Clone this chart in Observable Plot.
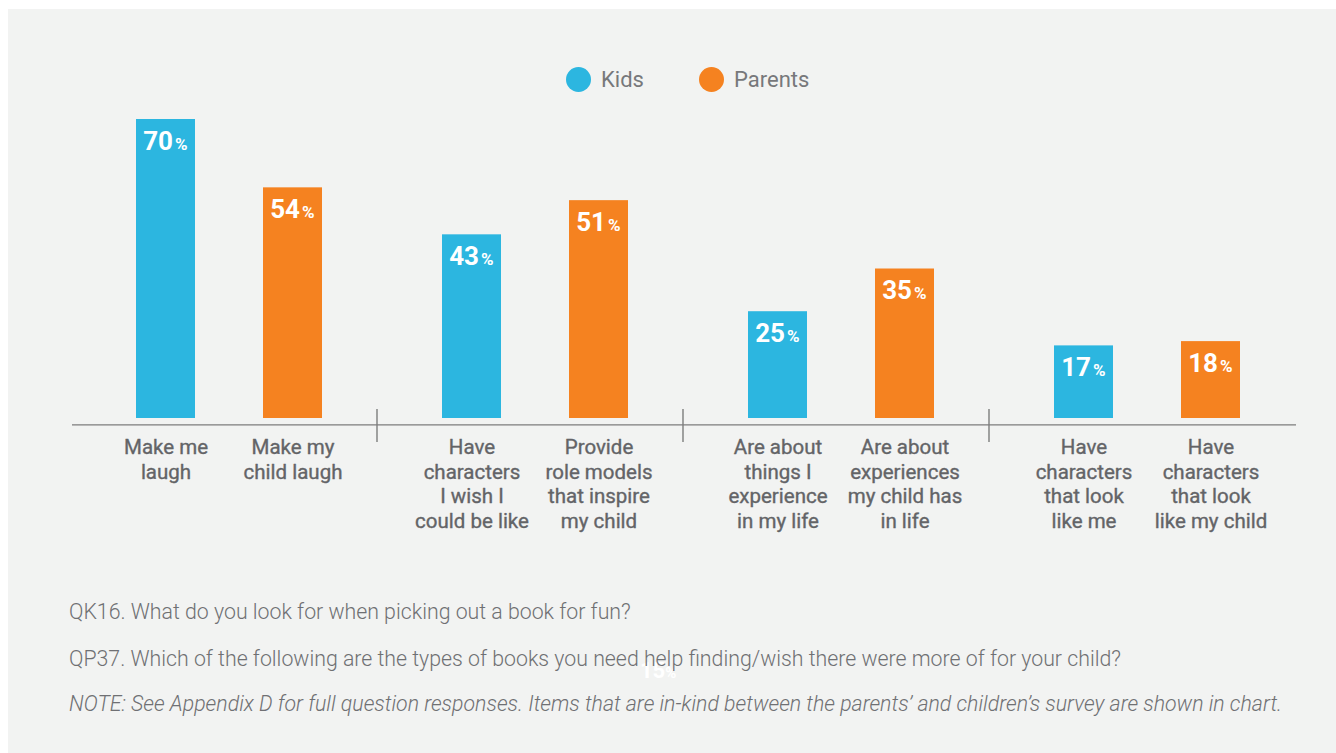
<!DOCTYPE html>
<html>
<head>
<meta charset="utf-8">
<script src="https://cdn.jsdelivr.net/npm/d3@7"></script>
<script src="https://cdn.jsdelivr.net/npm/@observablehq/plot@0.6"></script>
<style>
  html, body { margin: 0; padding: 0; background: #ffffff; width: 1336px; height: 753px; overflow: hidden; position: relative; font-family: Roboto, "Noto Sans", sans-serif; }
  #panel { position: absolute; left: 8px; top: 9px; right: 0; bottom: 0; background: #f2f3f2; }
  .leg { position: absolute; top: 67px; display: flex; align-items: center; font-size: 22px; color: #77787b; font-weight: 400; }
  .leg .dot { width: 25px; height: 25px; border-radius: 50%; margin-right: 10px; }
  .note { position: absolute; left: 69px; font-size: 21.3px; font-weight: 300; color: #6f7073; white-space: nowrap; }
  #ghost { position: absolute; left: 640px; top: 658px; color: #ffffff; font-weight: 700; font-size: 22px; }
  #ghost span { font-size: 15px; }
  svg { position: absolute; left: 0; top: 0; }
</style>
</head>
<body>
<div id="panel"></div>
<script>
const groups = ["laugh", "characters", "experience", "lookLike"];
const series = ["Kids", "Parents"];
const kidsValues = [70, 43, 25, 17];
const parentsValues = [54, 51, 35, 18];
const kidsLabels = [
  "Make me\nlaugh",
  "Have\ncharacters\nI wish I\ncould be like",
  "Are about\nthings I\nexperience\nin my life",
  "Have\ncharacters\nthat look\nlike me"
];
const parentsLabels = [
  "Make my\nchild laugh",
  "Provide\nrole models\nthat inspire\nmy child",
  "Are about\nexperiences\nmy child has\nin life",
  "Have\ncharacters\nthat look\nlike my child"
];
const colors = ["#2cb6e0", "#f58220"];
const notes = [
  "QK16. What do you look for when picking out a book for fun?",
  "QP37. Which of the following are the types of books you need help finding/wish there were more of for your child?",
  "NOTE: See Appendix D for full question responses. Items that are in-kind between the parents\u2019 and children\u2019s survey are shown in chart."
];

const data = groups.flatMap((g, i) => [
  {group: g, series: "Kids", value: kidsValues[i], label: kidsLabels[i]},
  {group: g, series: "Parents", value: parentsValues[i], label: parentsLabels[i]}
]);

// legend
const legLeft = [566, 699];
series.forEach((s, i) => {
  const el = document.createElement("div");
  el.className = "leg";
  el.style.left = legLeft[i] + "px";
  el.innerHTML = `<div class="dot" style="background:${colors[i]}"></div><div>${s}</div>`;
  document.body.appendChild(el);
});

const chart = Plot.plot({
  width: 1336,
  height: 545,
  marginTop: 119,
  marginBottom: 127,
  marginLeft: 76,
  marginRight: 36,
  style: {background: "transparent", fontFamily: "Roboto, 'Noto Sans', sans-serif", overflow: "visible"},
  fx: {domain: groups, padding: 0, axis: null},
  x: {domain: series, paddingInner: 0.537, paddingOuter: 0.468, axis: null},
  y: {domain: [0, 70], axis: null},
  color: {domain: series, range: colors},
  marks: [
    Plot.barY(data, {fx: "group", x: "series", y: "value", fill: "series"}),
    Plot.ruleY([-1.5], {stroke: "#7d7d7d", strokeWidth: 1.4, dx: -4}),
    Plot.ruleX(groups.slice(1), {fx: d => d, x: () => "Kids", y1: -5.6, y2: 2.1, dx: -95, stroke: "#7d7d7d", strokeWidth: 1.4}),
    Plot.text(data, {fx: "group", x: "series", y: "value", text: d => String(d.value), dx: 7, dy: 30,
      textAnchor: "end", lineAnchor: "bottom", fill: "white", fontSize: 26, fontWeight: 700}),
    Plot.text(data, {fx: "group", x: "series", y: "value", text: () => "%", dx: 9, dy: 30,
      textAnchor: "start", lineAnchor: "bottom", fill: "white", fontSize: 17, fontWeight: 700}),
    Plot.text(data, {fx: "group", x: "series", y: () => 0, text: "label", dy: 18,
      lineAnchor: "top", lineHeight: 1.2, fill: "#636467", fontSize: 20.5, fontWeight: 400,
      stroke: "#636467", strokeWidth: 0.35})
  ]
});
document.body.appendChild(chart);

const ghost = document.createElement("div");
ghost.id = "ghost";
ghost.innerHTML = "15<span>%</span>";
document.body.appendChild(ghost);

const noteTops = [599, 646, 691];
notes.forEach((t, i) => {
  const el = document.createElement("div");
  el.className = "note";
  el.style.top = noteTops[i] + "px";
  if (i === 2) el.style.fontStyle = "italic";
  el.textContent = t;
  document.body.appendChild(el);
});
</script>
</body>
</html>
